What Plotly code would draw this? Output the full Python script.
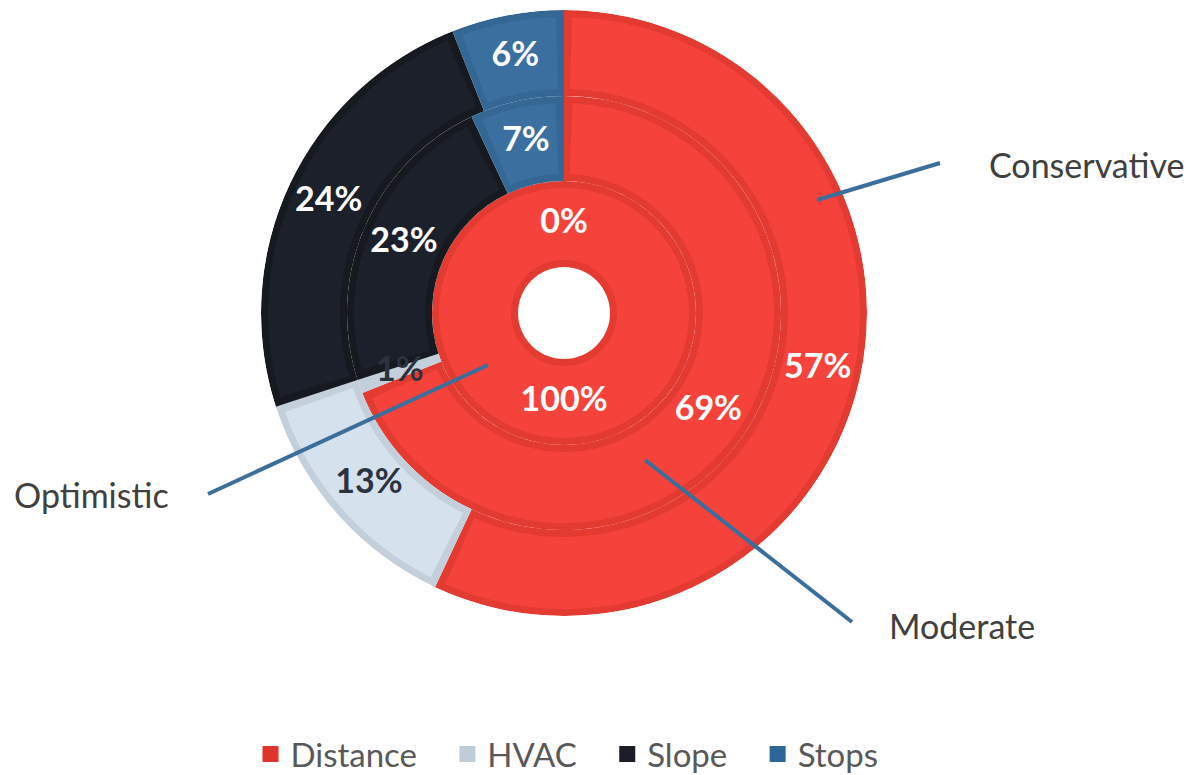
import numpy as np
import plotly.graph_objects as go

# ── Data ────────────────────────────────────────────────
categories = ["Distance", "HVAC", "Slope", "Stops"]
scenarios = ["Optimistic", "Moderate", "Conservative"]   # inner -> outer ring
optimistic = [100, 0, 0, 0]
moderate = [69, 1, 23, 7]
conservative = [57, 13, 24, 6]
ring_values = [optimistic, moderate, conservative]

# ── Style ───────────────────────────────────────────────
FILL = {"Distance": "#F5433C", "HVAC": "#D5E2EE", "Slope": "#1C202A", "Stops": "#3B6F9F"}
EDGE = {"Distance": "#E33A31", "HVAC": "#C3CFDA", "Slope": "#16191F", "Stops": "#346794"}
SWATCH = {"Distance": "#E0332B", "HVAC": "#C0CCD7", "Slope": "#1B1E27", "Stops": "#2E6699"}
LABEL = {"Distance": "white", "HVAC": "#2B333F", "Slope": "white", "Stops": "white"}
LEADER = "#3B6E9B"
FONT = "Lato"

W, H = 1197, 775
PAGE_PAD = 8                 # default body margin of the html page
CX, CY = 564, 313            # pie centre in screen pixels
RING_EDGES = [46, 132, 217, 303]
INSET = 7                    # bevel border thickness, px
NBSP = "\u00a0"


def px(x, y):
    return (x - PAGE_PAD) / W, 1 - (y - PAGE_PAD) / H


fig = go.Figure()

# ── Rings (edge colour underneath, inset fill on top) ───
for layer in ("edge", "fill"):
    for ci, cat in enumerate(categories):
        thetas, widths, bases, thick = [], [], [], []
        for ri, vals in enumerate(ring_values):
            r0, r1 = RING_EDGES[ri], RING_EDGES[ri + 1]
            start = sum(vals[:ci]) * 3.6
            span = vals[ci] * 3.6
            thetas.append(start + span / 2)
            if layer == "edge":
                widths.append(span)
                bases.append(r0)
                thick.append(r1 - r0)
            else:
                dth = 0 if vals[ci] >= 100 else np.degrees(INSET / ((r0 + r1) / 2))
                widths.append(max(span - 2 * dth, 0))
                bases.append(r0 + INSET)
                thick.append(r1 - r0 - 2 * INSET)
        fig.add_trace(go.Barpolar(
            theta=thetas, width=widths, base=bases, r=thick,
            marker=dict(color=FILL[cat] if layer == "fill" else EDGE[cat], line=dict(width=0)),
            showlegend=False, hoverinfo="skip",
        ))

# ── Percentage labels (coincident zero slices share one label) ──
labels = {}
for ri, vals in enumerate(ring_values):
    rmid = (RING_EDGES[ri] + RING_EDGES[ri + 1]) / 2
    for ci, cat in enumerate(categories):
        mid = (sum(vals[:ci]) + vals[ci] / 2) * 3.6
        labels[(ri, round(mid % 360, 3))] = (rmid, mid, f"{vals[ci]}%", LABEL[cat])
lab_r, lab_t, lab_s, lab_c = zip(*labels.values())

fig.add_trace(go.Scatterpolar(
    r=list(lab_r), theta=list(lab_t), text=list(lab_s), mode="text",
    textfont=dict(family=FONT, size=34, color=list(lab_c), weight="bold"),
    showlegend=False, hoverinfo="skip",
))

# ── Legend entries ──────────────────────────────────────
for i, cat in enumerate(categories):
    pad = NBSP * 3 if i < len(categories) - 1 else ""
    fig.add_trace(go.Scatterpolar(
        r=[None], theta=[None], mode="markers", name=cat + pad,
        marker=dict(symbol="square", size=16, color=SWATCH[cat]),
    ))

# ── Leader lines + ring names ───────────────────────────
leaders = {
    "Conservative": ((817, 200), (940, 163), (987, 164), "left"),
    "Moderate": ((645, 460), (852, 622), (887, 625), "left"),
    "Optimistic": ((488, 365), (208, 494), (171, 494), "right"),
}
for name in scenarios:
    (x0, y0), (x1, y1), (tx, ty), anchor = leaders[name]
    a, b = px(x0, y0)
    c, d = px(x1, y1)
    fig.add_shape(type="line", xref="paper", yref="paper", x0=a, y0=b, x1=c, y1=d,
                  line=dict(color=LEADER, width=4))
    lx, ly = px(tx, ty)
    fig.add_annotation(text=name, x=lx, y=ly, xref="paper", yref="paper",
                       xanchor=anchor, yanchor="middle", showarrow=False,
                       font=dict(family=FONT, size=34, color="#404040"))

# ── Layout ──────────────────────────────────────────────
R = RING_EDGES[-1]
dx0, dy0 = px(CX - R, CY + R)
dx1, dy1 = px(CX + R, CY - R)
lgx, lgy = px(567, 754)

fig.update_layout(
    width=W, height=H,
    paper_bgcolor="white",
    margin=dict(l=0, r=0, t=0, b=0),
    polar=dict(
        domain=dict(x=[dx0, dx1], y=[dy0, dy1]),
        bgcolor="white",
        barmode="overlay",
        hole=0,
        radialaxis=dict(range=[0, R], visible=False),
        angularaxis=dict(rotation=90, direction="clockwise", visible=False),
    ),
    legend=dict(
        orientation="h", x=lgx, y=lgy, xanchor="center", yanchor="middle",
        font=dict(family=FONT, size=33, color="#595959"),
        itemclick=False,
    ),
)

fig.write_html("out.html")
